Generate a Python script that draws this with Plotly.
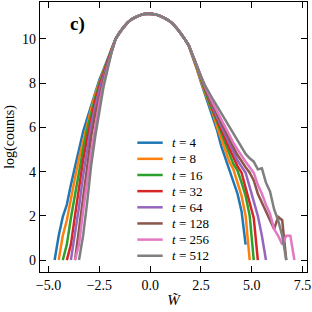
import plotly.graph_objects as go

# bin centres (shared grid)
W_GRID = [-4.7, -4.5, -4.3, -4.1, -3.9, -3.7, -3.5, -3.3, -3.1, -2.9, -2.7, -2.5, -2.3, -2.1, -1.9,
          -1.7, -1.5, -1.3, -1.1, -0.9, -0.7, -0.5, -0.3, -0.1, 0.1, 0.3, 0.5, 0.7, 0.9, 1.1, 1.3, 1.5, 1.7,
          1.9, 2.1, 2.3, 2.5, 2.7, 2.9, 3.1, 3.3, 3.5, 3.7, 3.9, 4.1, 4.3, 4.5, 4.7, 4.9, 5.1, 5.3, 5.5,
          5.7, 5.9, 6.1, 6.3, 6.5, 6.7, 6.9, 7.1]

T_VALUES = [4, 8, 16, 32, 64, 128, 256, 512]
COLORS = ["#1f77b4", "#ff7f0e", "#2ca02c", "#d62728", "#9467bd", "#8c564b", "#e377c2", "#7f7f7f"]

# shared central part, W = -1.7 ... 1.7
CORE = [10.0, 10.3, 10.55, 10.75, 10.9, 11.0, 11.08, 11.13, 11.15, 11.14, 11.1, 11.04, 10.95,
        10.84, 10.7, 10.5, 10.27, 10.0]

# left tails, W = -4.7 ... -1.9
LEFT_T4 = [0.0, 1.1, 1.95, 2.5, 3.4, 4.2, 5.0, 5.8, 6.4, 7.0, 7.6, 8.15, 8.6, 9.05, 9.55]
LEFT_T8 = [None, 0.0, 1.1, 1.8, 2.8, 3.7, 4.6, 5.4, 6.2, 6.85, 7.5, 8.05, 8.55, 9.0, 9.53]
LEFT_T16 = [None, None, 0.0, 0.7, 1.9, 3.0, 4.0, 5.0, 5.9, 6.7, 7.35, 7.95, 8.5, 8.97, 9.52]
LEFT_T32 = [None, None, None, 0.0, 0.7, 2.0, 3.3, 4.5, 5.5, 6.4, 7.2, 7.85, 8.42, 8.92, 9.5]
LEFT_T64 = [None, None, None, None, 0.0, 1.1, 2.4, 3.8, 5.0, 6.1, 6.95, 7.7, 8.3, 8.85, 9.47]
LEFT_T128 = [None, None, None, None, None, 0.0, 1.4, 3.0, 4.4, 5.6, 6.6, 7.4, 8.1, 8.78, 9.45]
LEFT_T256 = [None, None, None, None, None, 0.0, 0.7, 2.2, 3.6, 4.9, 6.0, 7.1, 7.95, 8.7, 9.42]
LEFT_T512 = [None, None, None, None, None, None, 0.0, 1.1, 2.6, 4.3, 5.6, 6.8, 7.8, 8.6, 9.4]

# right tails, W = 1.9 ... 7.1
RIGHT_T4 = [9.7, 9.2, 8.65, 8.05, 7.5, 7.0, 6.45, 5.85, 5.15, 4.6, 4.1, 3.6, 3.0, 2.2, 0.7,
            None, None, None, None, None, None, None, None, None, None, None, None]
RIGHT_T8 = [9.7, 9.2, 8.68, 8.1, 7.57, 7.08, 6.6, 6.0, 5.45, 4.95, 4.45, 4.1, 3.5, 2.9, 2.0, 0.0,
            None, None, None, None, None, None, None, None, None, None, None]
RIGHT_T16 = [9.7, 9.22, 8.7, 8.15, 7.63, 7.15, 6.7, 6.2, 5.75, 5.25, 4.8, 4.35, 4.05, 3.5, 2.9, 2.0, 0.0,
             None, None, None, None, None, None, None, None, None, None]
RIGHT_T32 = [9.71, 9.22, 8.72, 8.2, 7.7, 7.22, 6.78, 6.35, 5.9, 5.45, 5.05, 4.65, 4.25, 3.95, 3.3, 2.6,
             1.9, 0.0, None, None, None, None, None, None, None, None, None]
RIGHT_T64 = [9.71, 9.23, 8.73, 8.24, 7.76, 7.3, 6.87, 6.45, 6.05, 5.62, 5.25, 4.9, 4.5, 4.2, 3.95, 3.3,
             2.6, 2.0, 1.1, 0.0, None, None, None, None, None, None, None]
RIGHT_T128 = [9.72, 9.24, 8.74, 8.27, 7.82, 7.38, 6.97, 6.58, 6.2, 5.82, 5.45, 5.1, 4.75, 4.45, 4.2, 3.95,
              3.6, 3.0, 2.6, 2.2, 1.8, 1.4, 1.95, 1.8, 0.0, None, None]
RIGHT_T256 = [9.72, 9.25, 8.75, 8.29, 7.86, 7.45, 7.08, 6.72, 6.35, 6.0, 5.65, 5.3, 5.0, 4.7, 4.45, 4.2,
              3.95, 3.4, 3.0, 2.5, 2.1, 1.4, 1.1, 0.7, 1.1, 1.1, 0.0]
RIGHT_T512 = [9.72, 9.25, 8.75, 8.3, 7.9, 7.55, 7.25, 6.95, 6.65, 6.35, 6.05, 5.75, 5.4, 5.1, 4.8, 4.6,
              4.45, 4.1, 4.15, 3.5, 3.1, 2.3, 1.8, 1.1, 0.0, None, None]

LEFTS = [LEFT_T4, LEFT_T8, LEFT_T16, LEFT_T32, LEFT_T64, LEFT_T128, LEFT_T256, LEFT_T512]
RIGHTS = [RIGHT_T4, RIGHT_T8, RIGHT_T16, RIGHT_T32, RIGHT_T64, RIGHT_T128, RIGHT_T256, RIGHT_T512]

FONT = "Liberation Serif"
W_PX, H_PX = 312, 312
M_L, M_R, M_T, M_B = 40, 5, 2, 40

fig = go.Figure()
for t, col, left, right in zip(T_VALUES, COLORS, LEFTS, RIGHTS):
    fig.add_trace(go.Scatter(
        x=W_GRID, y=left + CORE + right, mode="lines",
        line=dict(color=col, width=2.5), name=f"t = {t}", showlegend=False,
    ))

axis_style = dict(
    showline=True, linecolor="black", linewidth=1.3, mirror="allticks",
    ticks="inside", ticklen=6, tickwidth=1.1, tickcolor="black",
    showgrid=False, zeroline=False, automargin=False,
    tickfont=dict(family=FONT, size=14, color="black"),
)

fig.update_xaxes(range=[-5.42, 7.72], tickvals=[-5, -2.5, 0, 2.5, 5, 7.5], tickformat=".1f",
                 title=dict(text="<i>W̃</i>", font=dict(family=FONT, size=15), standoff=2),
                 **axis_style)
fig.update_yaxes(range=[-0.54, 11.67], tickvals=[0, 2, 4, 6, 8, 10],
                 title=dict(text="log(counts)", font=dict(family=FONT, size=14), standoff=4),
                 **axis_style)

# manual legend (pixel geometry -> paper coordinates)
pw = W_PX - M_L - M_R
ph = H_PX - M_T - M_B
shapes = []
annotations = []
for i, (t, col) in enumerate(zip(T_VALUES, COLORS)):
    ypx = 142.7 + 16.15 * i
    yp = (H_PX - M_B - ypx) / ph
    shapes.append(dict(type="line", xref="paper", yref="paper",
                       x0=(137.3 - M_L) / pw, x1=(162.7 - M_L) / pw, y0=yp, y1=yp,
                       line=dict(color=col, width=2.5)))
    annotations.append(dict(xref="paper", yref="paper", x=(169.5 - M_L) / pw, y=yp,
                            xanchor="left", yanchor="middle", showarrow=False,
                            text=f"<i>t</i> = {t}", font=dict(family=FONT, size=13, color="black")))

annotations.append(dict(xref="paper", yref="paper", x=(77 - M_L) / pw, y=(H_PX - M_B - 24) / ph,
                        xanchor="center", yanchor="middle", showarrow=False,
                        text="<b>c)</b>", font=dict(family=FONT, size=19, color="black")))

fig.update_layout(
    width=W_PX, height=H_PX,
    margin=dict(l=M_L, r=M_R, t=M_T, b=M_B),
    plot_bgcolor="white", paper_bgcolor="white",
    showlegend=False,
    font=dict(family=FONT, size=14, color="black"),
    shapes=shapes, annotations=annotations,
)

fig.write_html("out.html", config={"displayModeBar": False},
               post_script="document.body.style.margin='0';document.body.style.overflow='hidden';")
